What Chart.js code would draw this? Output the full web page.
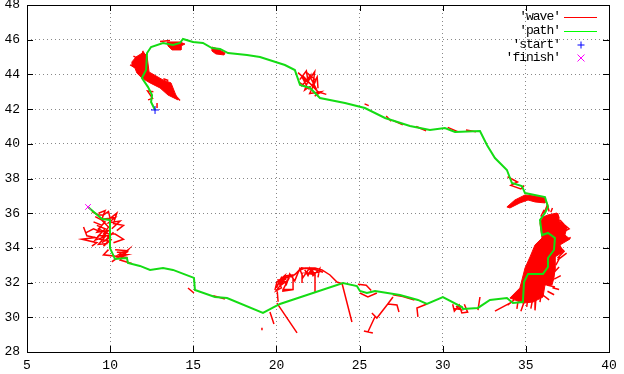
<!DOCTYPE html>
<html>
<head>
<meta charset="utf-8">
<style>
    body { margin: 0; background: #fff; }
    canvas { display: block; }
</style>
<script src="https://cdn.jsdelivr.net/npm/chart.js"></script>
</head>
<body>
<canvas id="trackChart" width="624" height="374"></canvas>
<script>
const xTicks = [5, 10, 15, 20, 25, 30, 35, 40];
const yTicks = [28, 30, 32, 34, 36, 38, 40, 42, 44, 46, 48];
const legendLabels = ["'wave'", "'path'", "'start'", "'finish'"];

const startPoint = [[12.70, 41.95]];
const finishPoint = [[8.67, 36.36]];

// green track, lon / lat
const pathPoints = [
    [12.70, 41.95], [12.46, 42.41], [12.52, 42.81], [12.28, 43.27], [11.91, 43.79], [12.16, 44.25],
    [12.22, 45.23], [12.46, 45.58], [13.18, 45.81], [13.78, 45.70], [14.20, 45.81], [14.38, 46.04],
    [14.98, 45.87], [15.58, 45.81], [16.12, 45.52], [16.61, 45.47], [17.09, 45.23], [18.23, 45.12],
    [19.01, 45.00], [20.51, 44.54], [21.11, 44.25], [21.42, 43.39], [22.02, 43.22], [22.62, 42.64],
    [24.12, 42.35], [25.32, 42.06], [26.53, 41.49], [28.03, 41.03], [29.23, 40.80], [30.13, 40.91],
    [30.74, 40.68], [32.24, 40.74], [32.66, 39.93], [33.14, 39.18], [33.86, 38.49], [34.16, 37.74],
    [34.76, 37.57], [34.95, 37.16], [36.15, 36.93], [36.33, 36.36], [36.15, 36.01], [35.85, 35.61],
    [35.97, 34.74], [36.33, 34.86], [36.75, 34.57], [36.69, 33.88], [36.33, 33.42], [36.33, 32.90],
    [36.03, 32.50], [35.13, 32.50], [34.89, 32.03], [34.82, 30.88], [34.22, 30.82], [33.86, 31.11],
    [32.84, 31.00], [32.12, 30.54], [31.22, 30.48], [31.16, 30.59], [30.01, 31.17], [29.05, 30.77],
    [28.51, 31.00], [27.43, 31.29], [25.93, 31.52], [25.44, 31.40], [25.02, 31.52], [24.84, 31.80],
    [24.00, 31.98], [20.21, 30.77], [19.19, 30.25], [17.03, 31.11], [16.30, 31.17], [15.10, 31.57],
    [15.04, 32.27], [13.78, 32.73], [13.18, 32.84], [12.40, 32.73], [11.79, 32.96], [11.07, 33.13],
    [11.01, 33.42], [10.29, 33.36], [9.99, 33.99], [9.99, 35.61], [9.51, 35.67], [8.67, 36.36]
];

// solid red patches
const blobAdriatic = [
    [11.98, 45.29], [12.22, 45.06], [12.34, 44.14], [13.18, 43.68], [13.66, 43.51], [13.90, 42.93],
    [14.08, 42.53], [13.48, 42.81], [13.00, 43.22], [12.40, 43.51], [11.91, 43.79], [11.61, 44.08],
    [11.49, 44.37], [11.31, 44.49], [11.31, 44.72], [11.55, 45.00], [11.85, 45.18], [11.98, 45.29]
];
const blobTop1 = [
    [13.42, 45.87], [14.20, 45.87], [14.50, 45.75], [14.26, 45.64], [14.26, 45.41], [13.72, 45.41],
    [13.48, 45.64], [13.42, 45.87]
];
const blobTop2 = [
    [16.12, 45.58], [16.48, 45.47], [16.91, 45.23], [16.85, 45.12], [16.36, 45.18], [16.12, 45.35],
    [16.12, 45.58]
];
const blobLevant = [
    [36.33, 35.90], [36.87, 36.01], [37.05, 35.49], [37.47, 35.20], [37.35, 34.74], [37.65, 34.51],
    [37.05, 34.17], [37.23, 33.76], [36.75, 33.48], [36.75, 32.73], [36.69, 32.27], [36.57, 31.86],
    [36.15, 31.86], [36.03, 31.17], [35.43, 30.88], [34.82, 30.82], [34.04, 31.11], [34.64, 31.69],
    [34.95, 32.84], [35.25, 33.48], [35.55, 34.17], [35.97, 34.57], [35.85, 35.44], [36.03, 35.78],
    [36.33, 35.90]
];
const blobCyprus = [
    [33.86, 36.36], [34.34, 36.76], [34.95, 37.05], [36.15, 36.93], [36.15, 36.59], [35.55, 36.65],
    [35.13, 36.76], [34.64, 36.59], [34.04, 36.30], [33.86, 36.36]
];

// thin red excursions, null breaks the line
const waveStrokes = [
    [12.82, 42.35], [12.82, 42.06], null,
    [12.28, 42.53], [12.55, 42.62], [12.25, 43.05], [12.6, 43.0], null,
    [11.95, 45.35], [12.1, 45.1], null,
    [11.6, 44.95], [11.4, 45.05], null,
    [11.2, 44.55], [11.5, 44.4], null,
    [13.2, 43.75], [13.5, 43.65], null,
    [14.2, 42.5], [13.95, 42.75], null,
    // scrub north of the Black Sea corner
    [21.3, 44.1], [22.0, 43.5], [21.6, 43.9], [22.5, 43.0], [23.0, 42.85], null,
    [21.4, 43.7], [21.8, 44.2], [21.9, 43.6], [22.3, 44.15], [22.2, 43.4], [22.45, 43.85], [22.5, 43.2], null,
    [21.5, 43.3], [22.0, 43.9], [21.7, 43.1], [22.3, 43.5], [22.0, 42.9], [22.7, 43.0], [22.3, 42.75], null,
    [21.35, 43.55], [21.9, 43.2], [21.6, 43.75], [22.35, 43.25], [21.95, 44.0], [22.4, 43.65], null,
    [25.3, 42.3], [25.55, 42.2], null,
    [26.6, 41.6], [26.9, 41.3], null,
    [28.4, 41.0], [29.0, 40.75], null,
    [30.3, 40.95], [30.9, 40.7], null,
    [31.4, 40.8], [32.0, 40.7], null,
    [27.0, 41.35], [27.6, 41.1], null,
    [13.0, 45.9], [13.6, 45.95], null,
    // Libyan coast loops
    [19.91, 31.57], [20.03, 32.03], [20.51, 32.27], [20.99, 32.38], [21.42, 32.73], [21.72, 32.84],
    [22.32, 32.84], [22.74, 32.73], [23.22, 32.44], [23.64, 32.03], [24.00, 31.92], null,
    [20.1, 31.9], [20.6, 32.4], [21.1, 32.45], [21.5, 32.85], [22.3, 32.75], [22.8, 32.6], null,
    [20.0, 31.7], [20.3, 32.3], [20.6, 31.9], [20.8, 32.5], [21.1, 32.1], [21.4, 32.8], [21.6, 32.3],
    [22.0, 32.85], [22.2, 32.4], [22.6, 32.8], [22.5, 32.3], null,
    [20.0, 32.0], [20.5, 32.4], [20.2, 31.8], [20.7, 32.15], [20.4, 31.6], [21.0, 31.6], null,
    [20.0, 31.85], [20.4, 32.05], [20.0, 31.55], [20.3, 31.7], [20.1, 32.15], [20.6, 32.2], null,
    [21.7, 32.75], [21.9, 32.4], [22.1, 32.8], [22.3, 32.45], [21.8, 32.55], [22.6, 32.6], null,
    [22.32, 32.6], [22.32, 31.4], null,
    [21.54, 32.55], [21.54, 31.98], null,
    [21.0, 32.3], [21.0, 31.6], [20.34, 31.5], null,
    [20.03, 30.82], [21.24, 29.10], null,
    [20.05, 31.5], [20.1, 30.9], null,
    [19.61, 30.30], [19.85, 29.61], null,
    [19.13, 29.25], [19.13, 29.40], null,
    [23.94, 31.98], [24.54, 29.73], null,
    [25.02, 31.40], [25.50, 31.17], [26.04, 31.40], null,
    [25.92, 30.02], [25.50, 29.15], null,
    [25.74, 30.25], [26.04, 29.96], [26.65, 30.71], [27.01, 31.17], null,
    [25.26, 29.21], [25.80, 29.10], null,
    [26.71, 30.77], [27.25, 30.71], [27.37, 30.31], null,
    [27.0, 31.3], [27.6, 31.2], [28.3, 31.0], null,
    [28.51, 30.02], [28.45, 30.54], [29.05, 30.77], null,
    [14.68, 31.69], [15.04, 31.40], null,
    [16.2, 31.25], [16.9, 31.05], null,
    [24.9, 31.9], [25.4, 31.85], [25.7, 31.55], null,
    // around the crossing near 31E
    [30.6, 30.75], [30.7, 30.35], [31.0, 30.7], [31.15, 30.25], [31.5, 30.3], [31.3, 30.75], null,
    [30.8, 30.65], [31.1, 30.45], [30.7, 30.5], null,
    [32.24, 31.17], [32.12, 30.42], null,
    [33.14, 30.36], [34.04, 30.82], null,
    // fringes of the big patch
    [35.91, 31.34], [35.85, 30.88], null,
    [36.27, 31.86], [36.75, 31.75], null,
    [36.3, 31.5], [36.7, 31.3], null,
    [34.52, 30.88], [34.46, 30.48], null,
    [35.1, 30.95], [35.05, 30.6], null,
    [35.4, 31.0], [35.3, 30.5], null,
    [36.9, 33.4], [37.3, 33.8], [36.9, 34.2], [37.7, 34.6], null,
    [37.1, 35.5], [37.6, 35.1], [37.2, 34.9], null,
    [36.7, 32.6], [37.0, 32.9], null,
    [37.05, 35.6], [37.3, 35.35], null,
    [36.9, 33.3], [37.45, 33.7], null,
    [36.8, 33.0], [37.05, 33.45], null,
    [36.7, 32.2], [37.1, 32.4], null,
    [36.6, 31.7], [37.0, 31.6], null,
    [36.0, 31.3], [36.4, 31.0], null,
    [35.6, 31.0], [35.55, 30.4], null,
    [34.9, 30.9], [34.7, 30.35], null,
    [34.3, 31.0], [33.9, 30.7], null,
    [35.9, 35.8], [36.1, 36.2], null,
    [36.5, 36.05], [36.6, 36.3], null,
    [36.9, 36.0], [37.0, 35.7], null,
    [33.9, 38.1], [34.5, 37.8], [34.1, 37.6], [34.7, 37.4], [34.9, 37.6], null,
    [36.1, 36.0], [36.3, 36.5], [36.4, 36.1], null,
    // Ligurian end tangle
    [8.9, 36.1], [9.3, 35.9], [9.6, 35.9], [9.9, 36.1], [10.0, 35.7], [10.4, 36.0], [10.2, 35.4],
    [10.8, 35.3], [10.4, 35.0], null,
    [9.0, 35.5], [9.5, 35.3], [9.2, 34.9], [9.9, 35.0], [9.4, 34.5], [9.9, 34.4], [9.6, 34.1],
    [10.1, 34.5], null,
    [8.4, 35.2], [8.6, 34.7], [9.1, 34.6], [8.3, 34.5], [9.2, 34.3], [8.9, 34.1], null,
    [9.1, 35.8], [9.7, 35.5], [9.3, 35.1], [9.9, 34.8], [10.3, 34.8], [10.8, 34.5], [10.2, 34.3], null,
    [9.4, 35.7], [9.9, 35.2], [9.6, 34.8], [10.0, 34.6], [9.5, 34.3], null,
    [8.5, 34.85], [9.0, 35.1], [9.5, 34.9], [9.1, 34.45], [9.7, 34.65], [9.3, 34.2], [9.85, 34.25], null,
    [9.3, 36.0], [9.7, 36.15], [9.5, 35.65], [10.3, 35.75], [9.9, 35.45], [10.6, 35.55], [10.1, 35.1], null,
    [9.2, 35.3], [9.7, 35.1], [9.3, 34.7], [9.95, 34.7], [9.7, 34.4], [10.2, 34.9], null,
    [9.9, 33.9], [9.6, 33.6], [10.5, 33.5], [10.1, 33.2], [10.7, 33.6], [11.1, 33.9], [10.6, 33.3],
    [11.3, 33.1], null,
    [10.3, 33.9], [10.9, 33.85], [10.5, 33.6], [11.0, 33.6], [10.4, 33.45], null,
    [10.4, 33.75], [11.0, 33.75], [10.6, 33.5], [11.05, 33.45], null
];

function toXY(pairs) {
    return pairs.map(p => p ? { x: p[0], y: p[1] } : { x: null, y: null });
}

function blobDataset(points) {
    return {
        data: toXY(points),
        showLine: true,
        borderColor: '#ff0000',
        backgroundColor: '#ff0000',
        borderWidth: 1,
        pointRadius: 0,
        tension: 0,
        fill: 'shape',
        order: 4
    };
}

// gnuplot style box, inward ticks and key
const gnuplotFrame = {
    id: 'gnuplotFrame',
    afterDraw(chart) {
        const { ctx, chartArea: a, scales } = chart;
        ctx.save();
        ctx.strokeStyle = '#000';
        ctx.lineWidth = 1;
        ctx.beginPath();
        xTicks.forEach(v => {
            const px = Math.round(scales.x.getPixelForValue(v)) + 0.5;
            ctx.moveTo(px, a.bottom); ctx.lineTo(px, a.bottom - 6);
            ctx.moveTo(px, a.top); ctx.lineTo(px, a.top + 6);
        });
        yTicks.forEach(v => {
            const py = Math.round(scales.y.getPixelForValue(v)) + 0.5;
            ctx.moveTo(a.left, py); ctx.lineTo(a.left + 6, py);
            ctx.moveTo(a.right, py); ctx.lineTo(a.right - 6, py);
        });
        ctx.stroke();
        ctx.strokeRect(a.left + 0.5, a.top + 0.5, a.right - a.left, a.bottom - a.top);

        ctx.font = '13px "Liberation Mono"';
        ctx.letterSpacing = '-1px';
        ctx.fillStyle = '#000';
        ctx.textAlign = 'right';
        ctx.textBaseline = 'middle';
        const rowY = [17, 31, 45, 58];
        legendLabels.forEach((t, i) => ctx.fillText(t, 560, rowY[i]));
        ctx.strokeStyle = '#ff0000';
        ctx.beginPath(); ctx.moveTo(564, rowY[0] + 0.5); ctx.lineTo(597, rowY[0] + 0.5); ctx.stroke();
        ctx.strokeStyle = '#00ff00';
        ctx.beginPath(); ctx.moveTo(564, rowY[1] + 0.5); ctx.lineTo(597, rowY[1] + 0.5); ctx.stroke();
        ctx.strokeStyle = '#0000ff';
        ctx.beginPath();
        ctx.moveTo(577.5, rowY[2]); ctx.lineTo(584.5, rowY[2]);
        ctx.moveTo(581, rowY[2] - 3.5); ctx.lineTo(581, rowY[2] + 3.5);
        ctx.stroke();
        ctx.strokeStyle = '#ff00ff';
        ctx.beginPath();
        ctx.moveTo(577.5, rowY[3] - 3.5); ctx.lineTo(584.5, rowY[3] + 3.5);
        ctx.moveTo(584.5, rowY[3] - 3.5); ctx.lineTo(577.5, rowY[3] + 3.5);
        ctx.stroke();
        ctx.restore();
    }
};

const axisFont = { family: '"Liberation Mono"', size: 13 };

new Chart(document.getElementById('trackChart').getContext('2d'), {
    type: 'scatter',
    data: {
        datasets: [
            {
                label: 'start',
                data: toXY(startPoint),
                pointStyle: 'cross',
                pointRadius: 4,
                borderColor: '#0000ff',
                borderWidth: 1,
                order: 0
            },
            {
                label: 'finish',
                data: toXY(finishPoint),
                pointStyle: 'crossRot',
                pointRadius: 4,
                borderColor: '#ff00ff',
                borderWidth: 1,
                order: 0
            },
            {
                label: 'path',
                data: toXY(pathPoints),
                showLine: true,
                borderColor: '#14dc14',
                borderWidth: 2,
                pointRadius: 0,
                tension: 0,
                order: 1
            },
            {
                label: 'wave',
                data: toXY(waveStrokes),
                showLine: true,
                borderColor: '#ff0000',
                borderWidth: 1.5,
                pointRadius: 0,
                tension: 0,
                order: 3
            },
            blobDataset(blobAdriatic),
            blobDataset(blobTop1),
            blobDataset(blobTop2),
            blobDataset(blobLevant),
            blobDataset(blobCyprus)
        ]
    },
    options: {
        responsive: false,
        animation: false,
        layout: { autoPadding: false, padding: { top: 5, right: 15, left: 0, bottom: 0 } },
        plugins: { legend: { display: false }, tooltip: { enabled: false } },
        scales: {
            x: {
                min: 5,
                max: 40,
                afterFit(s) { s.height = 22; s.paddingLeft = 0; s.paddingRight = 0; },
                afterBuildTicks(s) { s.ticks = xTicks.map(v => ({ value: v })); },
                grid: { color: '#888', drawTicks: false },
                border: { display: false, dash: [1, 3] },
                ticks: { color: '#000', font: axisFont, padding: 6, maxRotation: 0, autoSkip: false }
            },
            y: {
                min: 28,
                max: 48,
                afterFit(s) { s.width = 27; s.paddingTop = 0; s.paddingBottom = 0; },
                afterBuildTicks(s) { s.ticks = yTicks.map(v => ({ value: v })); },
                grid: { color: '#888', drawTicks: false },
                border: { display: false, dash: [1, 3] },
                ticks: { color: '#000', font: axisFont, padding: 7, autoSkip: false }
            }
        }
    },
    plugins: [gnuplotFrame]
});
</script>
</body>
</html>
